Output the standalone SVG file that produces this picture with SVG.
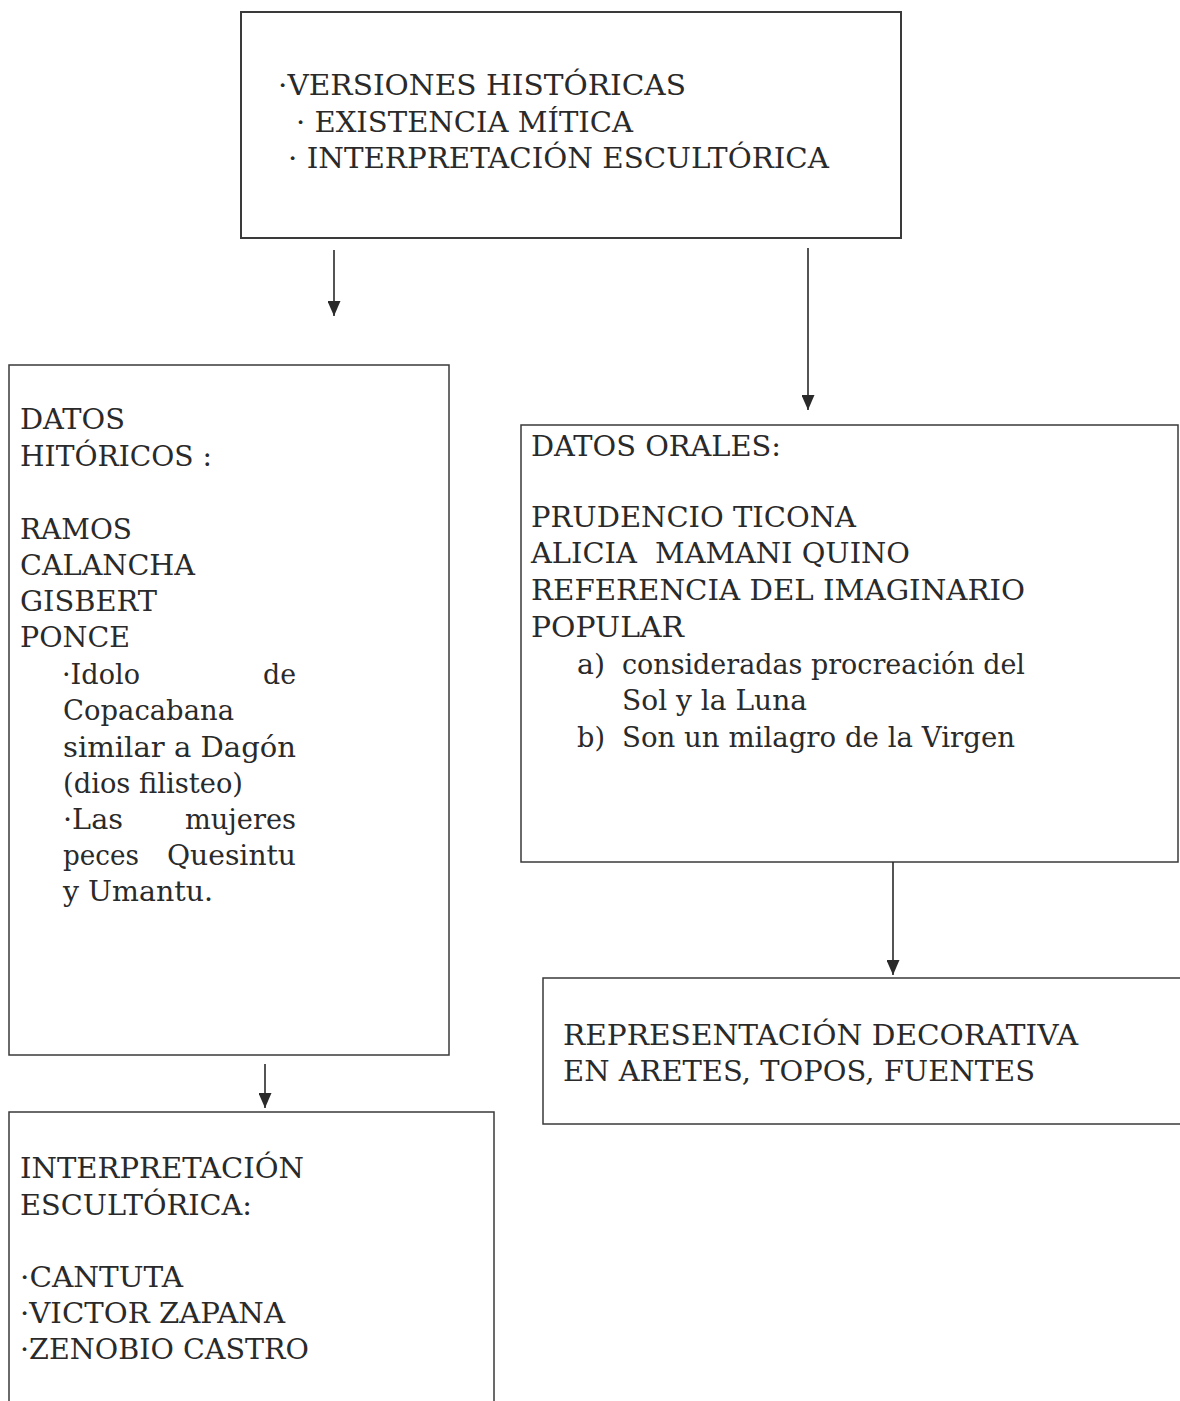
<svg xmlns="http://www.w3.org/2000/svg" width="1180" height="1401" viewBox="0 0 1180 1401">
<style>
.box{fill:none;stroke:#3a3a3a;stroke-width:1.5}
.t{font-family:"DejaVu Serif","Liberation Serif",serif;font-size:27px;fill:#2a2a2a}
.c{stroke:#2a2a2a;stroke-width:1.6;fill:none}
</style>
<defs>
<marker id="ah" viewBox="0 0 15 13" refX="15" refY="6.5" markerWidth="15" markerHeight="13" markerUnits="userSpaceOnUse" orient="auto">
<path d="M0,0 L15,6.5 L0,13 Z" fill="#2a2a2a"/>
</marker>
</defs>
<rect width="1180" height="1401" fill="#ffffff"/>
<g id="top">
<rect class="box" x="241" y="12" width="660" height="226" style="stroke-width:2"/>
<text class="t" x="278" y="95" textLength="408" lengthAdjust="spacingAndGlyphs">·VERSIONES HISTÓRICAS</text>
<text class="t" x="296" y="132" textLength="337" lengthAdjust="spacingAndGlyphs">· EXISTENCIA MÍTICA</text>
<text class="t" x="288" y="168" textLength="541" lengthAdjust="spacingAndGlyphs">· INTERPRETACIÓN ESCULTÓRICA</text>
</g>
<g id="historicos">
<rect class="box" x="9" y="365" width="440" height="690"/>
<text class="t" x="20" y="429" textLength="105" lengthAdjust="spacingAndGlyphs">DATOS</text>
<text class="t" x="20" y="466" textLength="192" lengthAdjust="spacingAndGlyphs">HITÓRICOS :</text>
<text class="t" x="20" y="539" textLength="112" lengthAdjust="spacingAndGlyphs">RAMOS</text>
<text class="t" x="20" y="575" textLength="175" lengthAdjust="spacingAndGlyphs">CALANCHA</text>
<text class="t" x="20" y="611" textLength="137" lengthAdjust="spacingAndGlyphs">GISBERT</text>
<text class="t" x="20" y="647" textLength="110" lengthAdjust="spacingAndGlyphs">PONCE</text>
<text class="t" x="62" y="684" textLength="78" lengthAdjust="spacingAndGlyphs">·Idolo</text>
<text class="t" x="263" y="684" textLength="33" lengthAdjust="spacingAndGlyphs">de</text>
<text class="t" x="63" y="720" textLength="171" lengthAdjust="spacingAndGlyphs">Copacabana</text>
<text class="t" x="63" y="757" textLength="233" lengthAdjust="spacingAndGlyphs">similar a Dagón</text>
<text class="t" x="63" y="793" textLength="180" lengthAdjust="spacingAndGlyphs">(dios filisteo)</text>
<text class="t" x="63" y="829" textLength="60" lengthAdjust="spacingAndGlyphs">·Las</text>
<text class="t" x="185" y="829" textLength="111" lengthAdjust="spacingAndGlyphs">mujeres</text>
<text class="t" x="63" y="865" textLength="76" lengthAdjust="spacingAndGlyphs">peces</text>
<text class="t" x="167" y="865" textLength="129" lengthAdjust="spacingAndGlyphs">Quesintu</text>
<text class="t" x="63" y="901" textLength="150" lengthAdjust="spacingAndGlyphs">y Umantu.</text>
</g>
<g id="orales">
<rect class="box" x="521" y="425" width="657" height="437"/>
<text class="t" x="531" y="456" textLength="250" lengthAdjust="spacingAndGlyphs">DATOS ORALES:</text>
<text class="t" x="531" y="527" textLength="325" lengthAdjust="spacingAndGlyphs">PRUDENCIO TICONA</text>
<text class="t" x="531" y="563" textLength="379" lengthAdjust="spacingAndGlyphs" style="white-space:pre">ALICIA  MAMANI QUINO</text>
<text class="t" x="531" y="600" textLength="494" lengthAdjust="spacingAndGlyphs">REFERENCIA DEL IMAGINARIO</text>
<text class="t" x="531" y="637" textLength="153" lengthAdjust="spacingAndGlyphs">POPULAR</text>
<text class="t" x="577" y="674" textLength="28" lengthAdjust="spacingAndGlyphs">a)</text>
<text class="t" x="622" y="674" textLength="403" lengthAdjust="spacingAndGlyphs">consideradas procreación del</text>
<text class="t" x="622" y="710" textLength="185" lengthAdjust="spacingAndGlyphs">Sol y la Luna</text>
<text class="t" x="577" y="747" textLength="28" lengthAdjust="spacingAndGlyphs">b)</text>
<text class="t" x="622" y="747" textLength="393" lengthAdjust="spacingAndGlyphs">Son un milagro de la Virgen</text>
</g>
<g id="decorativa">
<rect class="box" x="543" y="978" width="645" height="146"/>
<text class="t" x="563" y="1045" textLength="515" lengthAdjust="spacingAndGlyphs">REPRESENTACIÓN DECORATIVA</text>
<text class="t" x="563" y="1081" textLength="472" lengthAdjust="spacingAndGlyphs">EN ARETES, TOPOS, FUENTES</text>
</g>
<g id="escultorica">
<rect class="box" x="9" y="1112" width="485" height="300"/>
<text class="t" x="20" y="1178" textLength="284" lengthAdjust="spacingAndGlyphs">INTERPRETACIÓN</text>
<text class="t" x="20" y="1215" textLength="232" lengthAdjust="spacingAndGlyphs">ESCULTÓRICA:</text>
<text class="t" x="20" y="1287" textLength="163" lengthAdjust="spacingAndGlyphs">·CANTUTA</text>
<text class="t" x="20" y="1323" textLength="265" lengthAdjust="spacingAndGlyphs">·VICTOR ZAPANA</text>
<text class="t" x="20" y="1359" textLength="289" lengthAdjust="spacingAndGlyphs">·ZENOBIO CASTRO</text>
</g>
<g id="connectors">
<line class="c" x1="334" y1="250" x2="334" y2="316" marker-end="url(#ah)"/>
<line class="c" x1="808" y1="248" x2="808" y2="410" marker-end="url(#ah)"/>
<line class="c" x1="265" y1="1064" x2="265" y2="1108" marker-end="url(#ah)"/>
<line class="c" x1="893" y1="862" x2="893" y2="975" marker-end="url(#ah)"/>
</g>
</svg>
